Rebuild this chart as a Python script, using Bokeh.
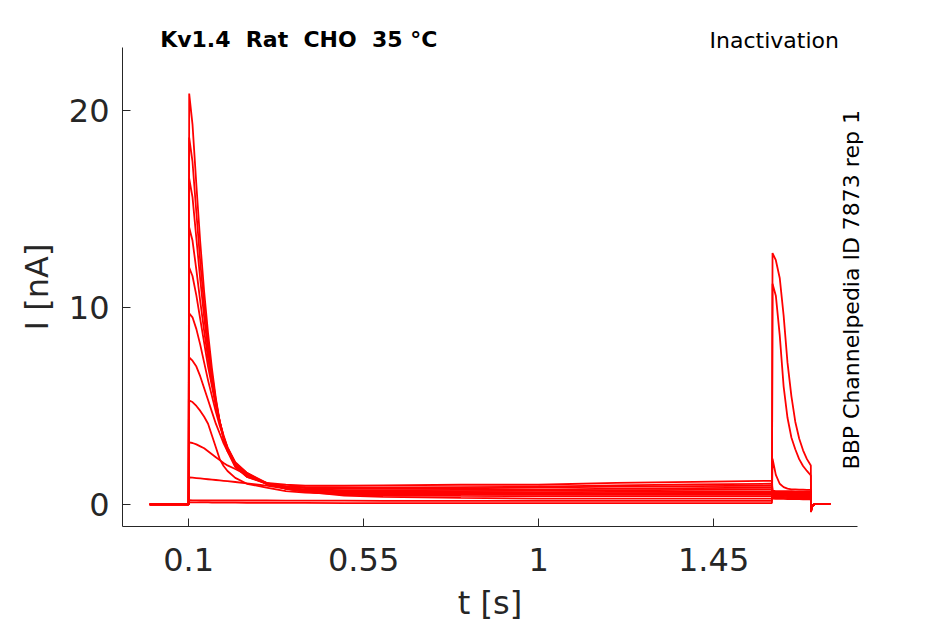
from math import pi
from bokeh.plotting import figure
from bokeh.models import Range1d, FixedTicker, LinearAxis
from bokeh.embed import file_html
from bokeh.resources import INLINE

# time samples [s]
T_PRE = [0.0, 0.1, 0.1015, 0.11, 0.12, 0.13, 0.14, 0.15, 0.16, 0.17, 0.18, 0.19, 0.20,
         0.22, 0.25, 0.30, 0.35, 0.40, 0.50, 0.60, 0.80, 1.00, 1.20, 1.40, 1.60]
T_TEST = [1.6015, 1.61, 1.62, 1.63, 1.64, 1.65, 1.66, 1.67, 1.68, 1.69, 1.70,
          1.7005, 1.703, 1.71, 1.75]

# currents [nA] during the conditioning step (one list per sweep)
pre_a = [0, 0, 20.86, 19.3, 16.2, 13.3, 10.8, 8.7, 6.9, 5.4, 4.2, 3.3, 2.7, 1.9, 1.4, 1.1, 1.0, 0.95, 0.95, 0.97, 1.0, 1.0, 1.1, 1.15, 1.2]
pre_b = [0, 0, 18.63, 17.4, 14.8, 12.3, 10.1, 8.2, 6.6, 5.3, 4.2, 3.35, 2.75, 1.95, 1.4, 1.05, 0.92, 0.88, 0.85, 0.86, 0.88, 0.9, 0.97, 1.02, 1.05]
pre_c = [0, 0, 16.55, 15.6, 13.5, 11.4, 9.5, 7.8, 6.4, 5.2, 4.2, 3.4, 2.8, 2.0, 1.45, 1.05, 0.9, 0.83, 0.8, 0.8, 0.82, 0.85, 0.9, 0.93, 0.95]
pre_d = [0, 0, 14.06, 13.4, 11.9, 10.3, 8.8, 7.4, 6.2, 5.1, 4.2, 3.45, 2.85, 2.05, 1.5, 1.05, 0.85, 0.77, 0.72, 0.72, 0.74, 0.75, 0.8, 0.83, 0.85]
pre_e = [0, 0, 12.03, 11.6, 10.6, 9.4, 8.2, 7.0, 6.0, 5.0, 4.2, 3.5, 2.9, 2.1, 1.55, 1.05, 0.82, 0.72, 0.66, 0.66, 0.68, 0.7, 0.72, 0.74, 0.75]
pre_f = [0, 0, 9.70, 9.5, 8.9, 8.1, 7.2, 6.3, 5.5, 4.7, 4.0, 3.4, 2.9, 2.15, 1.6, 1.05, 0.8, 0.68, 0.6, 0.6, 0.62, 0.62, 0.64, 0.65, 0.65]
pre_g = [0, 0, 7.46, 7.3, 7.0, 6.5, 5.9, 5.3, 4.7, 4.1, 3.6, 3.1, 2.7, 2.1, 1.6, 1.1, 0.8, 0.66, 0.56, 0.55, 0.55, 0.55, 0.57, 0.58, 0.58]
pre_h = [0, 0, 5.28, 5.2, 5.0, 4.75, 4.45, 4.1, 3.5, 2.9, 2.3, 1.95, 1.7, 1.35, 1.05, 0.85, 0.68, 0.6, 0.52, 0.5, 0.5, 0.5, 0.5, 0.5, 0.5]
pre_i = [0, 0, 3.15, 3.12, 3.05, 2.95, 2.85, 2.7, 2.55, 2.4, 2.25, 2.1, 1.98, 1.8, 1.5, 1.1, 0.8, 0.65, 0.5, 0.45, 0.43, 0.42, 0.42, 0.42, 0.42]
pre_j = [0, 0, 1.37, 1.36, 1.34, 1.32, 1.3, 1.28, 1.26, 1.24, 1.22, 1.2, 1.18, 1.14, 1.07, 0.95, 0.8, 0.65, 0.45, 0.38, 0.33, 0.3, 0.3, 0.3, 0.3]
pre_k = [0, 0, 0.22, 0.21, 0.21, 0.2, 0.2, 0.2, 0.2, 0.2, 0.2, 0.2, 0.2, 0.2, 0.2, 0.2, 0.19, 0.19, 0.19, 0.18, 0.18, 0.18, 0.18, 0.18, 0.18]
pre_l = [0, 0, 0.1, 0.1, 0.1, 0.1, 0.1, 0.1, 0.09, 0.09, 0.09, 0.09, 0.09, 0.09, 0.08, 0.08, 0.08, 0.08, 0.07, 0.07, 0.07, 0.07, 0.07, 0.07, 0.07]

# currents [nA] during the test step and after it
test_a = [0.70, 0.68, 0.68, 0.67, 0.67, 0.67, 0.66, 0.66, 0.66, 0.66, 0.66, -0.38, -0.10, 0.02, 0.03]
test_b = [0.65, 0.63, 0.63, 0.62, 0.62, 0.62, 0.61, 0.61, 0.61, 0.61, 0.61, -0.36, -0.10, 0.02, 0.03]
test_c = [0.60, 0.58, 0.58, 0.57, 0.57, 0.57, 0.56, 0.56, 0.56, 0.56, 0.56, -0.34, -0.10, 0.02, 0.03]
test_d = [0.55, 0.53, 0.53, 0.52, 0.52, 0.52, 0.51, 0.51, 0.51, 0.51, 0.51, -0.32, -0.09, 0.02, 0.03]
test_e = [0.50, 0.49, 0.48, 0.48, 0.47, 0.47, 0.47, 0.47, 0.46, 0.46, 0.46, -0.30, -0.09, 0.02, 0.03]
test_f = [0.45, 0.44, 0.43, 0.43, 0.42, 0.42, 0.42, 0.42, 0.41, 0.41, 0.41, -0.28, -0.08, 0.02, 0.03]
test_g = [0.40, 0.39, 0.38, 0.38, 0.37, 0.37, 0.37, 0.37, 0.36, 0.36, 0.36, -0.26, -0.08, 0.02, 0.03]
test_h = [0.35, 0.34, 0.33, 0.33, 0.32, 0.32, 0.32, 0.32, 0.31, 0.31, 0.31, -0.24, -0.07, 0.02, 0.03]
test_i = [0.30, 0.29, 0.28, 0.28, 0.27, 0.27, 0.27, 0.27, 0.26, 0.26, 0.26, -0.22, -0.07, 0.02, 0.03]
test_j = [2.32, 1.50, 1.05, 0.88, 0.80, 0.77, 0.76, 0.75, 0.75, 0.74, 0.74, -0.30, -0.08, 0.02, 0.03]
test_k = [11.2, 10.6, 8.6, 6.0, 4.4, 3.4, 2.8, 2.3, 1.95, 1.7, 1.47, -0.35, -0.10, 0.02, 0.03]
test_l = [12.76, 12.4, 11.5, 9.6, 7.2, 5.5, 4.2, 3.35, 2.75, 2.3, 1.98, -0.39, -0.10, 0.02, 0.03]

PRE = [pre_a, pre_b, pre_c, pre_d, pre_e, pre_f, pre_g, pre_h, pre_i, pre_j, pre_k, pre_l]
TEST = [test_a, test_b, test_c, test_d, test_e, test_f, test_g, test_h, test_i, test_j, test_k, test_l]

X_TICKS = [0.1, 0.55, 1.0, 1.45]
X_LABELS = ["0.1", "0.55", "1", "1.45"]
Y_TICKS = [0, 10, 20]
Y_LABELS = ["0", "10", "20"]

TITLE = "Kv1.4 \u00a0Rat \u00a0CHO \u00a035 °C"
PROTOCOL = "Inactivation"
SIDE = "BBP Channelpedia ID 7873 rep 1"
# anchor positions of the header / side texts, in data units
TITLE_X = 0.3834
PROTOCOL_X = 1.606
SIDE_Y = 1.78

FONT = "DejaVu Sans"
INK = "#262626"

p = figure(width=945, height=624,
           x_range=Range1d(-0.07, 1.82), y_range=Range1d(-1.12, 23.2),
           output_backend="svg", toolbar_location=None,
           min_border_left=122, min_border_right=88,
           min_border_top=47, min_border_bottom=98)
p.outline_line_color = None
p.grid.visible = False
p.background_fill_color = "white"
p.border_fill_color = "white"

for pre, test in zip(PRE, TEST):
    p.line(T_PRE + T_TEST, pre + test, line_color="#ff0000", line_width=1.8)

for ax in (p.xaxis[0], p.yaxis[0]):
    ax.axis_line_color = INK
    ax.axis_line_width = 1
    ax.major_tick_line_color = INK
    ax.major_tick_in = 8
    ax.major_tick_out = 0
    ax.minor_tick_line_color = None
    ax.major_label_text_font = FONT
    ax.major_label_text_font_size = "32px"
    ax.major_label_text_color = INK
    ax.axis_label_text_font = FONT
    ax.axis_label_text_font_size = "32px"
    ax.axis_label_text_font_style = "normal"
    ax.axis_label_text_color = INK

p.xaxis.ticker = FixedTicker(ticks=X_TICKS)
p.xaxis.major_label_overrides = dict(zip(X_TICKS, X_LABELS))
p.xaxis.major_label_standoff = 21
p.xaxis.axis_label = "t [s]"
p.xaxis.axis_label_standoff = 10
p.yaxis.ticker = FixedTicker(ticks=Y_TICKS)
p.yaxis.major_label_overrides = dict(zip(Y_TICKS, Y_LABELS))
p.yaxis.major_label_standoff = 13
p.yaxis.axis_label = "I [nA]"
p.yaxis.axis_label_standoff = 10


def bare_axis(tick, text, standoff, size, style, orientation="horizontal"):
    return LinearAxis(ticker=FixedTicker(ticks=[tick]),
                      major_label_overrides={tick: text},
                      axis_line_color=None, major_tick_line_color=None,
                      minor_tick_line_color=None, major_tick_in=0, major_tick_out=0,
                      major_label_standoff=standoff, major_label_orientation=orientation,
                      major_label_text_font=FONT, major_label_text_font_size=size,
                      major_label_text_font_style=style, major_label_text_color="black")


# header: protocol name (inner) and bold cell description (outer, pulled down)
p.add_layout(bare_axis(PROTOCOL_X, PROTOCOL, -5, "22px", "normal"), "above")
p.add_layout(bare_axis(TITLE_X, TITLE, -27, "22px", "bold"), "above")

# right-hand rotated note, reading upwards
p.add_layout(bare_axis(SIDE_Y, SIDE, -6, "22px", "normal", orientation=pi / 2), "right")

open("out.html", "w").write(file_html(p, INLINE))
